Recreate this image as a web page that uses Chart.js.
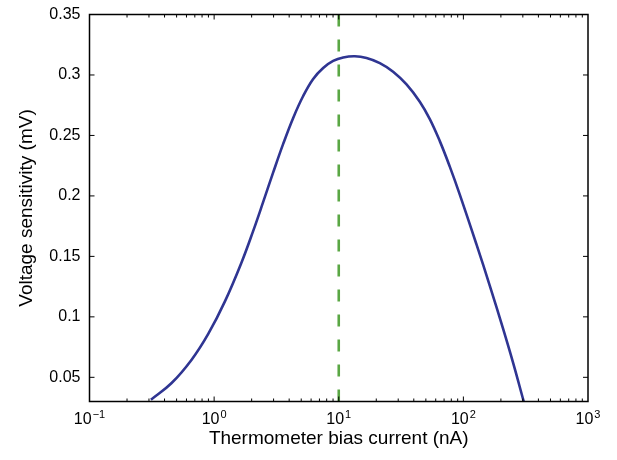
<!DOCTYPE html>
<html lang="en">
<head>
  <meta charset="UTF-8" />
  <title>Voltage sensitivity vs bias current</title>
  <script src="https://cdn.jsdelivr.net/npm/chart.js"></script>
  <style>
    html, body { margin: 0; background: #ffffff; }
    #wrap { width: 617px; height: 460px; }
  </style>
</head>
<body>
  <div id="wrap"><canvas id="sensChart" width="617" height="460"></canvas></div>
  <script>
    // bias current (nA) and voltage sensitivity (mV)
    const biasCurrent = [0.311, 0.456, 0.66, 0.897, 1.221, 1.662, 2.059, 2.476, 2.978, 3.582, 4.309, 5.183, 6.233, 7.497, 9.018, 10.85, 13.46, 16.71, 21.36, 27.31, 34.98, 44.7, 53.8, 64.7, 77.8, 93.6, 127.4, 162.8, 208.2, 250.4, 305];
    const sensitivity = [0.0314, 0.0453, 0.0646, 0.0859, 0.1128, 0.1452, 0.1711, 0.195, 0.2194, 0.243, 0.2645, 0.2826, 0.2967, 0.3058, 0.3116, 0.3145, 0.3155, 0.314, 0.3098, 0.3027, 0.2922, 0.2779, 0.2635, 0.2453, 0.2242, 0.2011, 0.1599, 0.1259, 0.0902, 0.0621, 0.030];

    // vertical marker at the chosen operating current
    const markerX = [10, 10];
    const markerY = [0.35, 0.03];

    const xTicks = [0.1, 1, 10, 100, 1000];
    const xTickExp = ['\u22121', '0', '1', '2', '3'];
    const yTicks = [0.05, 0.1, 0.15, 0.2, 0.25, 0.3, 0.35];
    const yTickLabels = ['0.05', '0.1', '0.15', '0.2', '0.25', '0.3', '0.35'];

    const FONT = '"Liberation Sans", Arial, Helvetica, sans-serif';

    // matlab style box, inward ticks and 10^n labels
    const boxTicks = {
      id: 'boxTicks',
      afterDraw(chart) {
        const { ctx, chartArea: a, scales: { x, y } } = chart;
        ctx.save();
        ctx.strokeStyle = '#000';
        ctx.lineWidth = 1.5;
        ctx.strokeRect(a.left, a.top, a.right - a.left, a.bottom - a.top);
        ctx.lineWidth = 1;
        ctx.beginPath();
        for (let d = -1; d < 3; d++) {
          for (let m = 1; m < 10; m++) {
            const px = x.getPixelForValue(m * Math.pow(10, d));
            const len = m === 1 ? 5 : 3;
            ctx.moveTo(px, a.bottom); ctx.lineTo(px, a.bottom - len);
            ctx.moveTo(px, a.top); ctx.lineTo(px, a.top + len);
          }
        }
        yTicks.forEach(v => {
          const py = y.getPixelForValue(v);
          ctx.moveTo(a.left, py); ctx.lineTo(a.left + 5, py);
          ctx.moveTo(a.right, py); ctx.lineTo(a.right - 5, py);
        });
        ctx.stroke();

        ctx.fillStyle = '#000';
        ctx.textBaseline = 'alphabetic';
        ctx.textAlign = 'left';
        const base = a.bottom + 22;
        xTicks.forEach((v, i) => {
          ctx.font = '16px ' + FONT;
          const wb = ctx.measureText('10').width;
          ctx.font = '11px ' + FONT;
          const we = ctx.measureText(xTickExp[i]).width;
          const x0 = x.getPixelForValue(v) - (wb + 1 + we) / 2;
          ctx.font = '16px ' + FONT;
          ctx.fillText('10', x0, base);
          ctx.font = '11px ' + FONT;
          ctx.fillText(xTickExp[i], x0 + wb + 1, base - 6);
        });
        ctx.restore();
      }
    };

    const ctx = document.getElementById('sensChart').getContext('2d');
    new Chart(ctx, {
      type: 'scatter',
      data: {
        datasets: [
          {
            data: biasCurrent.map((v, i) => ({ x: v, y: sensitivity[i] })),
            showLine: true,
            borderColor: '#2f3592',
            borderWidth: 2.6,
            pointRadius: 0,
            tension: 0.4
          },
          {
            data: markerX.map((v, i) => ({ x: v, y: markerY[i] })),
            showLine: true,
            borderColor: '#5aa744',
            borderWidth: 2.6,
            borderDash: [12, 13],
            pointRadius: 0
          }
        ]
      },
      options: {
        responsive: false,
        animation: false,
        layout: { padding: { top: 14.5, right: 29, left: 0, bottom: 0 } },
        plugins: { legend: { display: false }, tooltip: { enabled: false } },
        scales: {
          x: {
            type: 'logarithmic',
            min: 0.1,
            max: 1000,
            afterBuildTicks: s => { s.ticks = xTicks.map(v => ({ value: v, major: true })); },
            afterFit: s => { s.height = 58.5; s.paddingLeft = 0; s.paddingRight = 0; },
            grid: { display: false, drawTicks: false },
            border: { display: false },
            ticks: { display: false },
            title: {
              display: true,
              text: 'Thermometer bias current (nA)',
              color: '#000',
              font: { family: FONT, size: 19 },
              padding: { top: 0, bottom: 10 }
            }
          },
          y: {
            min: 0.03,
            max: 0.35,
            afterBuildTicks: s => { s.ticks = yTicks.map(v => ({ value: v })); },
            afterFit: s => { s.width = 89.5; s.paddingTop = 0; s.paddingBottom = 0; },
            grid: { display: false, drawTicks: false },
            border: { display: false },
            ticks: {
              padding: 9,
              color: '#000',
              font: { family: FONT, size: 16 },
              callback: v => yTickLabels[yTicks.indexOf(v)]
            },
            title: {
              display: true,
              text: 'Voltage sensitivity (mV)',
              color: '#000',
              font: { family: FONT, size: 19 },
              padding: { top: 15, bottom: 0 }
            }
          }
        }
      },
      plugins: [boxTicks]
    });
  </script>
</body>
</html>
